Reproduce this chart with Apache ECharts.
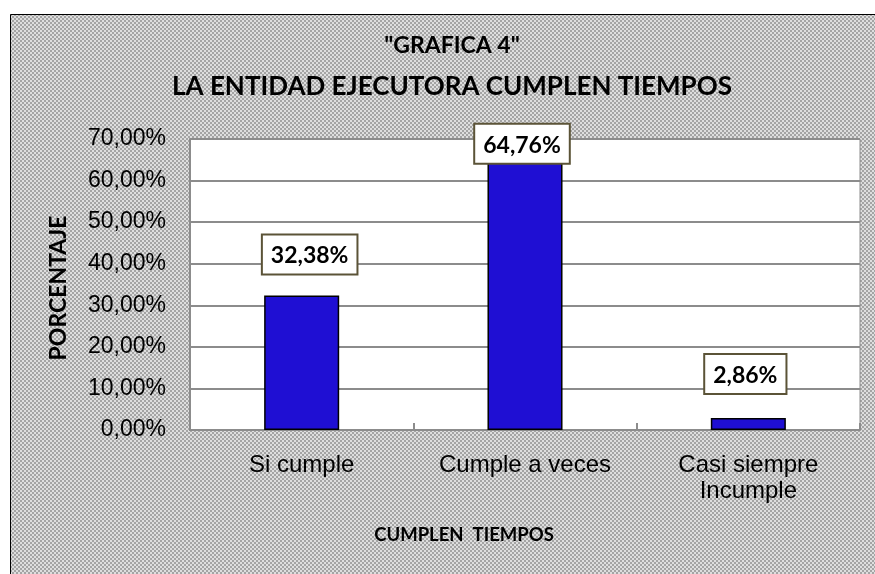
<!DOCTYPE html>
<html>
<head>
<meta charset="utf-8">
<script src="https://cdn.jsdelivr.net/npm/echarts@6/dist/echarts.min.js"></script>
<style>
  html, body { margin: 0; padding: 0; background: #fff; }
  #chart { width: 875px; height: 574px; }
</style>
</head>
<body>
<div id="chart"></div>
<script>
// datos de la grafica
const categories = ['Si cumple', 'Cumple a veces', 'Casi siempre\nIncumple'];
const values = [32.38, 64.76, 2.86];
const yTicks = [0, 10, 20, 30, 40, 50, 60, 70];

// offsets de las etiquetas (como en la hoja original)
const labelDistance = [22, -2, 25];
const labelShift = [8, -3, -3];

// fondo punteado gris
function makePattern() {
  const c = document.createElement('canvas');
  c.width = 4; c.height = 4;
  const ctx = c.getContext('2d');
  ctx.fillStyle = '#dedede';
  ctx.fillRect(0, 0, 4, 4);
  ctx.fillStyle = '#a4a4a4';
  ctx.fillRect(0, 0, 2, 2);
  ctx.fillRect(2, 2, 2, 2);
  return c;
}

const fmt = v => v.toFixed(2).replace('.', ',') + '%';

const myChart = echarts.init(document.getElementById('chart'));
const option = {
  backgroundColor: '#fff',
  animation: false,
  graphic: [
    {
      type: 'rect', z: -10, silent: true,
      shape: { x: 10.5, y: 14.5, width: 880, height: 580 },
      style: { fill: { image: makePattern(), repeat: 'repeat' }, stroke: '#000', lineWidth: 1 }
    },
    {
      type: 'text', x: 452, y: 46,
      style: { text: '"GRAFICA 4"', align: 'center', verticalAlign: 'middle',
        font: 'bold 23px Lato', fill: '#000' }
    },
    {
      type: 'text', x: 452, y: 87,
      style: { text: 'LA ENTIDAD EJECUTORA CUMPLEN TIEMPOS', align: 'center', verticalAlign: 'middle',
        font: 'bold 26px Lato', fill: '#000' }
    },
    {
      type: 'text', x: 59, y: 288, rotation: Math.PI / 2,
      style: { text: 'PORCENTAJE', align: 'center', verticalAlign: 'middle',
        font: 'bold 23px Lato', fill: '#000' }
    },
    {
      type: 'text', x: 464, y: 535,
      style: { text: 'CUMPLEN  TIEMPOS', align: 'center', verticalAlign: 'middle',
        font: 'bold 18.5px Lato', fill: '#000' }
    }
  ],
  grid: {
    left: 190, top: 139, right: 15, bottom: 144,
    show: true, backgroundColor: '#fff', borderColor: '#8c8c8c', borderWidth: 1
  },
  xAxis: {
    type: 'category',
    data: categories,
    axisLine: { lineStyle: { color: '#8c8c8c', width: 2 } },
    axisTick: { show: true, inside: true, interval: 0, length: 7, lineStyle: { color: '#8c8c8c', width: 2 } },
    axisLabel: { color: '#000', fontFamily: 'Liberation Sans', fontSize: 24, margin: 22, lineHeight: 26,
      interval: 0, hideOverlap: false }
  },
  yAxis: {
    type: 'value',
    min: yTicks[0], max: yTicks[yTicks.length - 1], interval: 10,
    axisLine: { show: true, lineStyle: { color: '#8c8c8c', width: 2 } },
    axisTick: { show: false },
    splitLine: { lineStyle: { color: '#8c8c8c', width: 2 } },
    axisLabel: { color: '#000', fontFamily: 'Liberation Sans', fontSize: 23, margin: 24, formatter: fmt }
  },
  series: [{
    type: 'bar',
    barWidth: '33.6%',
    data: values.map((v, i) => ({
      value: v,
      label: { distance: labelDistance[i], offset: [labelShift[i], 0] }
    })),
    itemStyle: { color: '#1f0fd3', borderColor: '#000', borderWidth: 1.5 },
    label: {
      show: true, position: 'top',
      formatter: p => fmt(p.value),
      fontFamily: 'Lato', fontWeight: 'bold', fontSize: 23, color: '#000',
      backgroundColor: '#fff', borderColor: '#5b5337', borderWidth: 2,
      padding: [9, 8, 6, 8]
    }
  }]
};
myChart.setOption(option);
window.addEventListener('resize', function () { myChart.resize(); });
</script>
</body>
</html>
